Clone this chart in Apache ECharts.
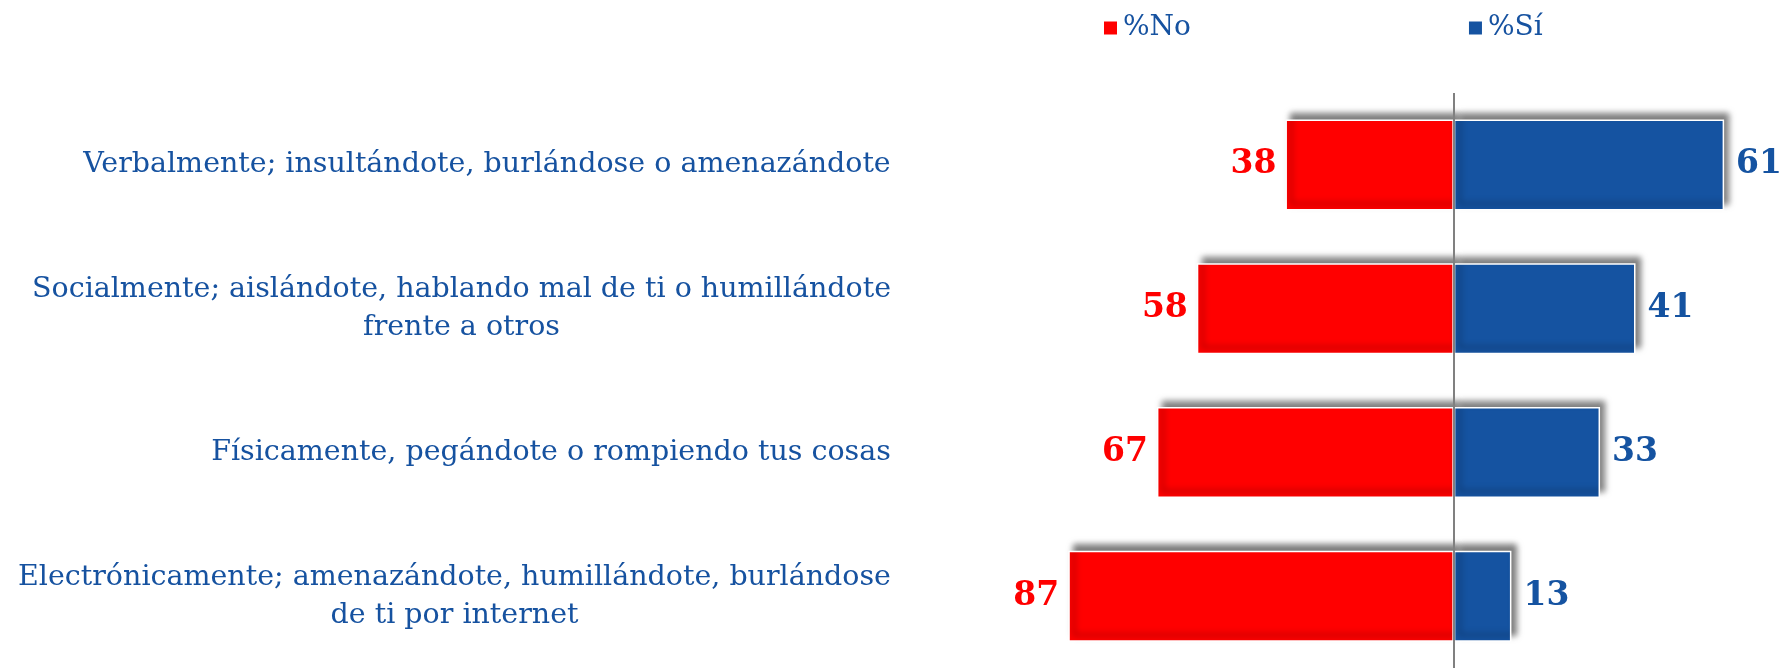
<!DOCTYPE html>
<html>
<head>
<meta charset="utf-8">
<script src="https://cdn.jsdelivr.net/npm/echarts@6/dist/echarts.min.js"></script>
<style>
  html, body { margin: 0; padding: 0; background: #fff; }
  #chart { width: 1783px; height: 668px; }
</style>
</head>
<body>
<div id="chart"></div>
<script>
const categories = [
  'Verbalmente; insultándote, burlándose o amenazándote',
  'Socialmente; aislándote, hablando mal de ti o humillándote\nfrente a otros',
  'Físicamente, pegándote o rompiendo tus cosas',
  'Electrónicamente; amenazándote, humillándote, burlándose\nde ti por internet'
];
const seriesNames = ['%No', '%Sí'];
const noValues = [38, 58, 67, 87];
const siValues = [61, 41, 33, 13];

const RED = '#ff0000';
const BLUE = '#1553a1';
const TEXT_BLUE = '#1652a0';
const FONT = '"DejaVu Serif", serif';
const CAT_SIZE = 28.5;

// measure each label's widest line so the lines can be centred under each other
const ctx = document.createElement('canvas').getContext('2d');
ctx.font = CAT_SIZE + 'px ' + FONT;
const rich = {};
categories.forEach((c, i) => {
  const w = Math.max(...c.split('\n').map(l => ctx.measureText(l).width));
  rich['c' + i] = {
    width: Math.ceil(w), align: 'center',
    fontSize: CAT_SIZE, fontFamily: FONT, color: TEXT_BLUE, lineHeight: 38
  };
});

const chart = echarts.init(document.getElementById('chart'));

const barStyle = color => ({
  color,
  borderColor: '#fff',
  borderWidth: 1.5,
  shadowColor: 'rgba(0,0,0,0.5)',
  shadowBlur: 6,
  shadowOffsetX: 5,
  shadowOffsetY: -6
});

chart.setOption({
  animation: false,
  legend: {
    left: 1097,
    top: 9,
    icon: 'rect',
    itemWidth: 15,
    itemHeight: 15,
    itemGap: 276,
    textStyle: { color: TEXT_BLUE, fontSize: 28, fontFamily: FONT },
    data: seriesNames
  },
  grid: { left: 1055, right: 19, top: 93, bottom: -13 },
  xAxis: {
    type: 'value',
    min: -90,
    max: 70,
    show: false
  },
  yAxis: {
    type: 'category',
    inverse: true,
    data: categories,
    axisLine: { show: false, onZero: false },
    axisTick: { show: false },
    axisLabel: {
      margin: 164,
      align: 'right',
      formatter: (value, idx) => value.split('\n').map(l => '{c' + idx + '|' + l + '}').join('\n'),
      rich
    }
  },
  series: [
    {
      name: seriesNames[0],
      type: 'bar',
      stack: 'total',
      barWidth: 91,
      data: noValues.map(v => -v),
      itemStyle: barStyle(RED),
      label: {
        show: true,
        position: 'left',
        distance: 9,
        formatter: p => Math.abs(p.value),
        color: RED,
        fontSize: 33,
        fontWeight: 'bold',
        fontFamily: FONT
      }
    },
    {
      name: seriesNames[1],
      type: 'bar',
      stack: 'total',
      barWidth: 91,
      data: siValues,
      itemStyle: barStyle(BLUE),
      label: {
        show: true,
        position: 'right',
        distance: 12,
        color: BLUE,
        fontSize: 33,
        fontWeight: 'bold',
        fontFamily: FONT
      },
      markLine: {
        silent: true,
        symbol: 'none',
        label: { show: false },
        lineStyle: { color: '#808080', width: 2, type: 'solid' },
        data: [{ xAxis: 0 }]
      }
    }
  ]
});
</script>
</body>
</html>
